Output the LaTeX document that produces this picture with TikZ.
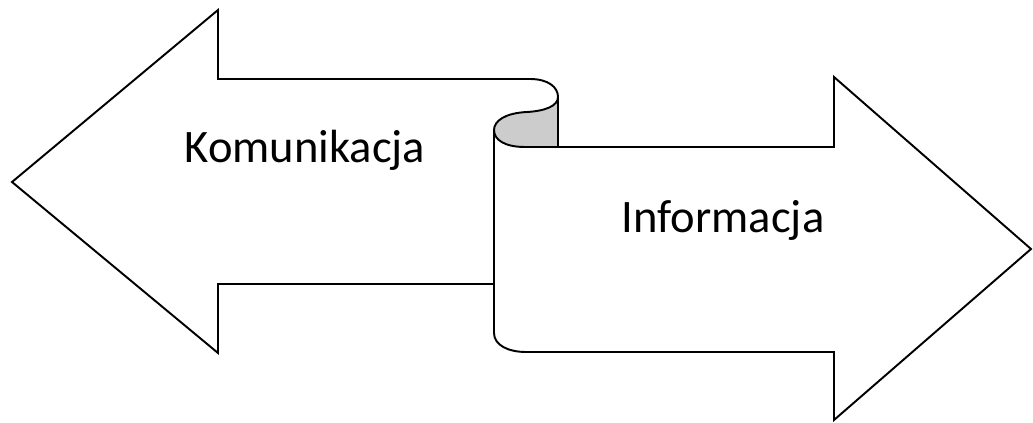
\documentclass[tikz,border=0pt]{standalone}
\usepackage{fontspec}
\setmainfont{Carlito}
\tikzset{
  outline/.style={draw=black, line width=1.1pt, line join=miter, fill=white},
  label/.style={font=\fontsize{26.5}{30}\selectfont, text=black}
}
\begin{document}
\begin{tikzpicture}[x=0.02cm, y=-0.02cm]
\useasboundingbox (0,0) rectangle (1033,422);
% lewa strzalka z zawinieciem u gory
\draw[outline] (494,284) -- (218,284) -- (218,353) -- (12,182) -- (218,10) -- (218,79)
  -- (530,79) .. controls (548,79) and (558,87) .. (558,97) -- (558,147) -- (494,147) -- cycle;
% zagiecie wstegi
\fill[black!20] (558,97) .. controls (558,106) and (545,111) .. (527,112)
  .. controls (505,113) and (494,121) .. (494,130)
  .. controls (494,140) and (505,147) .. (525,147) -- (558,147) -- cycle;
\draw[line width=1.1pt] (558,97) -- (558,147);
\draw[line width=1.1pt] (558,97) .. controls (558,106) and (545,111) .. (527,112)
  .. controls (505,113) and (494,121) .. (494,130);
% prawa strzalka
\draw[outline] (494,130) .. controls (494,140) and (505,147) .. (525,147) -- (834,147)
  -- (834,77) -- (1031,249) -- (834,420) -- (834,352) -- (526,352)
  .. controls (508,352) and (494,345) .. (494,333) -- cycle;
\node[label] (komunikacja) at (305,150) {Komunikacja};
\node[label] (informacja) at (723,220) {Informacja};
\end{tikzpicture}
\end{document}
